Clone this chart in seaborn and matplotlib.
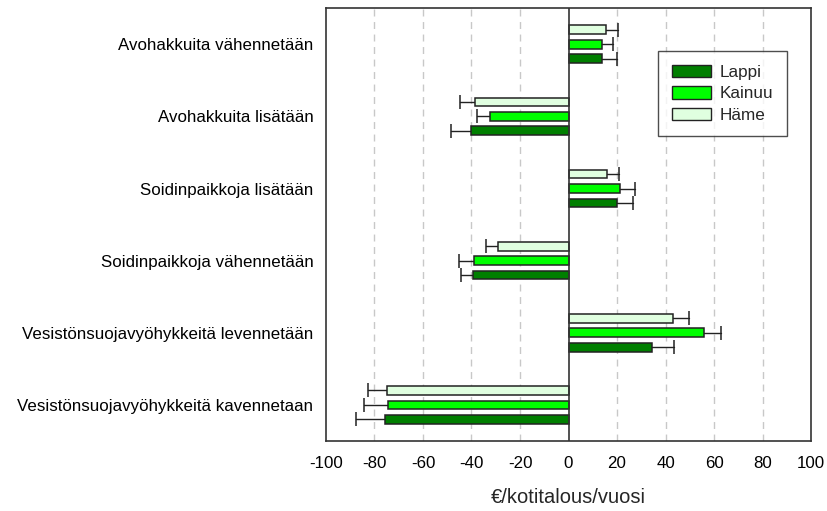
import pandas as pd
import matplotlib.pyplot as plt
import seaborn as sns
from matplotlib.patches import Patch

categories = ['Avohakkuita vähennetään', 'Avohakkuita lisätään', 'Soidinpaikkoja lisätään',
              'Soidinpaikkoja vähennetään', 'Vesistönsuojavyöhykkeitä levennetään',
              'Vesistönsuojavyöhykkeitä kavennetaan']
regions = ['Lappi', 'Kainuu', 'Häme']

lappi = [14.0, -40.4, 20.0, -39.5, 34.5, -75.8]
lappi_err = [6.0, 8.0, 6.4, 5.0, 8.9, 11.8]
kainuu = [13.7, -32.2, 21.4, -38.8, 55.8, -74.6]
kainuu_err = [4.7, 5.7, 5.9, 6.3, 7.2, 9.9]
hame = [15.5, -38.6, 15.9, -28.9, 43.0, -74.8]
hame_err = [4.8, 6.1, 4.9, 5.2, 6.6, 7.8]

xticks = [-100, -80, -60, -40, -20, 0, 20, 40, 60, 80, 100]

colors = {'Lappi': '#007f00', 'Kainuu': '#00ff00', 'Häme': '#e0ffe0'}

values = {'Lappi': lappi, 'Kainuu': kainuu, 'Häme': hame}
errors = {'Lappi': lappi_err, 'Kainuu': kainuu_err, 'Häme': hame_err}

rows = []
for r in regions:
    for c, v, e in zip(categories, values[r], errors[r]):
        rows.append({'category': c, 'region': r, 'value': v, 'err': e})
df = pd.DataFrame(rows)

sns.set_style('white')
plt.rcParams['font.family'] = ['Liberation Sans', 'DejaVu Sans']

fig = plt.figure(figsize=(8.28, 5.11), dpi=100)
ax = fig.add_axes([0.3937, 0.137, 0.5858, 0.847])

hue_order = ['Häme', 'Kainuu', 'Lappi']
sns.barplot(data=df, y='category', x='value', hue='region', order=categories,
            hue_order=hue_order, palette=colors, saturation=1, width=0.6, gap=0.4,
            edgecolor='#222222', linewidth=1.1, orient='h', legend=False, ax=ax,
            zorder=3)

# one-sided error bars, drawn outward from the end of each bar
for region, container in zip(hue_order, ax.containers):
    errs = df[df['region'] == region].set_index('category').loc[categories, 'err'].values
    for patch, e in zip(container.patches, errs):
        y = patch.get_y() + patch.get_height() / 2
        val = patch.get_x() + patch.get_width()
        end = val + e if val >= 0 else val - e
        ax.plot([val, end], [y, y], color='#222222', lw=1.0, zorder=2)
        ax.plot([end], [y], marker='|', markersize=9.5, markeredgewidth=1.1,
                color='#222222', zorder=2)

ax.set_xlim(-100, 100)
ax.set_ylim(len(categories) - 0.5, -0.5)
ax.set_xticks(xticks)
ax.set_xticklabels([str(t) for t in xticks])

for t in xticks[1:-1]:
    if t == 0:
        ax.axvline(0, color='#333333', lw=1.2, zorder=4)
    else:
        ax.axvline(t, color='#c8c8c8', lw=1.0, ls=(0, (5, 4)), zorder=1)

for s in ax.spines.values():
    s.set_color('#333333')
    s.set_linewidth(1.2)

ax.tick_params(axis='both', direction='out', length=5, width=1.0, color='#333333',
               labelsize=12.2, labelcolor='black')
ax.tick_params(axis='x', pad=6)
ax.tick_params(axis='y', pad=4)
ax.set_ylabel('')
ax.set_xlabel('€/kotitalous/vuosi', fontsize=14.5, labelpad=12)

handles = [Patch(facecolor=colors[r], edgecolor='#222222', linewidth=1.0, label=r)
           for r in regions]
leg = ax.legend(handles=handles, loc='upper left', bbox_to_anchor=(0.6845, 0.901),
                fontsize=12.3, frameon=True, fancybox=False, edgecolor='#222222',
                handlelength=2.28, handleheight=0.76, borderpad=0.8, labelspacing=0.36,
                handletextpad=0.53, borderaxespad=0)
leg.get_frame().set_linewidth(1.0)

fig.savefig('out.png', dpi=100)
